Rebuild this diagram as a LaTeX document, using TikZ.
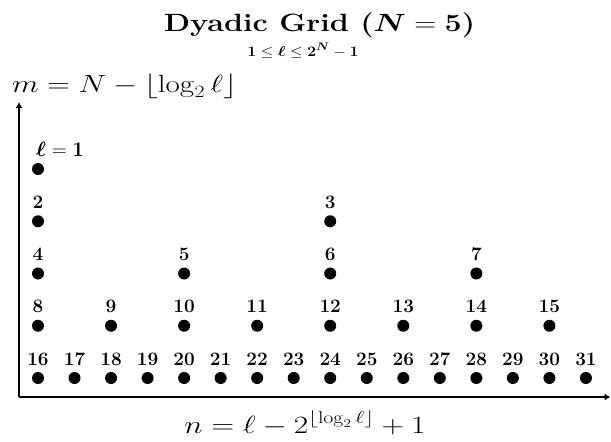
\documentclass[tikz,border=0pt]{standalone}
\usepackage{amsmath,amssymb,bm}
\usetikzlibrary{arrows.meta}
\begin{document}
\begin{tikzpicture}[x=1pt,y=-1pt,
  dot/.style={circle,fill=black,inner sep=0pt,minimum size=12pt},
  lab/.style={font=\fontsize{19}{19}\selectfont\bfseries,inner sep=0pt,anchor=base},
  txt/.style={inner sep=0pt,anchor=base},
  axis/.style={line width=2pt,-{Latex[length=6pt,width=7pt]}}]
\useasboundingbox (0,0) rectangle (611,442);
\node[txt,font=\fontsize{25}{25}\selectfont\bfseries] (title) at (319.5,31) {\scalebox{1.22}[1]{Dyadic Grid ($\bm{N}=\mathbf{5}$)}};
\node[txt,font=\fontsize{15}{15}\selectfont] (sub) at (303,56) {\scalebox{1.12}[1]{$\mathbf{1}\le\bm{\ell}\le\mathbf{2}^{\bm{N}}-\mathbf{1}$}};
\node[txt,font=\fontsize{26}{26}\selectfont,anchor=base west] (mlab) at (12,92) {\scalebox{1.25}[1]{$m=N-\lfloor\log_2\ell\rfloor$}};
\node[txt,font=\fontsize{26}{26}\selectfont] (nlab) at (305,433) {\scalebox{1.26}[1]{$n=\ell-2^{\lfloor\log_2\ell\rfloor}+1$}};
\coordinate (O) at (19,397);
\coordinate (ytop) at (19,102);
\coordinate (xend) at (610.5,397);
\draw[axis] (O) -- (ytop);
\draw[axis] (O) -- (xend);
\foreach \k in {0,...,4} {
  \pgfmathtruncatemacro\cnt{2^\k}
  \pgfmathsetmacro\spc{36.53*2^(4-\k)}
  \pgfmathsetmacro\yy{169+52.25*\k}
  \foreach \j in {1,...,\cnt} {
    \pgfmathtruncatemacro\lnum{\cnt+\j-1}
    \pgfmathsetmacro\xx{38+(\j-1)*\spc}
    \node[dot] (d\lnum) at (\xx,\yy) {};
    \ifnum\lnum>1
      \node[lab] (t\lnum) at (\xx,\yy-13) {\lnum};
    \fi
  }
}
\node[lab,anchor=base west,font=\fontsize{20}{20}\selectfont] (t1) at (36,156.5) {$\bm{\ell}=\mathbf{1}$};
\end{tikzpicture}
\end{document}
